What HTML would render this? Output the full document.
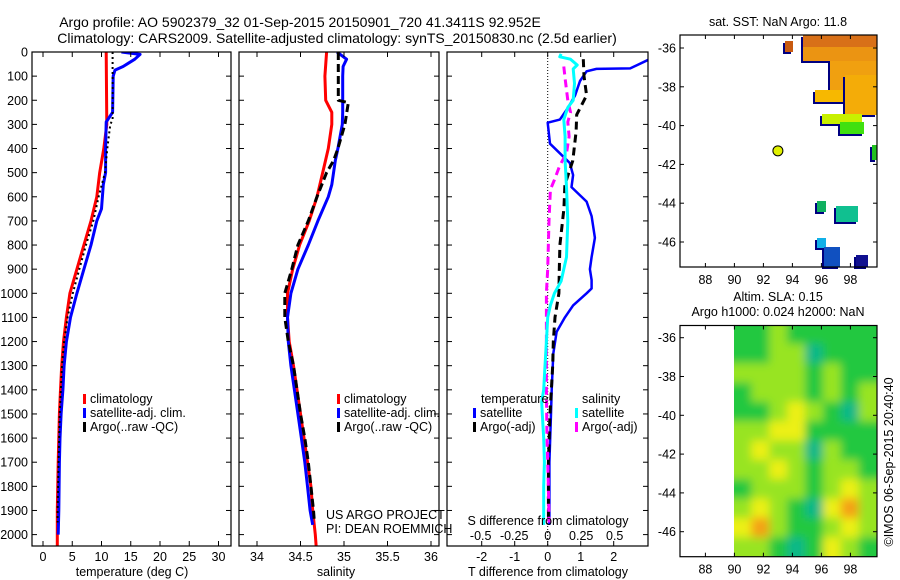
<!DOCTYPE html>
<html><head><meta charset="utf-8"><style>
html,body{margin:0;padding:0;background:#fff;}
svg{display:block;font-family:"Liberation Sans",sans-serif;}
</style></head><body>
<svg id="c" width="900" height="580" viewBox="0 0 900 580">
<defs>
<filter id="blur" filterUnits="userSpaceOnUse" x="700" y="300" width="200" height="280"><feGaussianBlur stdDeviation="4.5"/></filter>
<clipPath id="slaclip"><rect x="734" y="325.5" width="143" height="231"/></clipPath>
</defs>
<g font-size="14" text-anchor="middle" fill="#000">
<text x="300" y="27">Argo profile: AO 5902379_32 01-Sep-2015 20150901_720 41.3411S 92.952E</text>
<text x="337" y="43">Climatology: CARS2009. Satellite-adjusted climatology: synTS_20150830.nc (2.5d earlier)</text>
</g>
<g id="g1"></g>
<g id="g2"></g>
<g id="g3"></g>
<g id="m1"></g>
<g id="m2"></g>
</svg>
<script>
// ---- data ----
const depthTicks=[0,100,200,300,400,500,600,700,800,900,1000,1100,1200,1300,1400,1500,1600,1700,1800,1900,2000];
const tempTicks=[0,5,10,15,20,25,30];
const salTicks=[34,34.5,35,35.5,36];
const tdTicks=[-2,-1,0,1,2];
const sdTicks=[-0.5,-0.25,0,0.25,0.5];
const sdTickLabels=["-0.5","-0.25","0","0.25","0.5"];
const lonTicks=[88,90,92,94,96,98];
const latTicks=[-36,-38,-40,-42,-44,-46];

const tClimD=[0,300,400,500,600,700,800,900,1000,1100,1200,1300,1400,1500,1700,1900,2050];
const tClimV=[10.8,10.9,10.4,9.7,9.2,8.2,7.0,5.8,4.6,4.0,3.5,3.2,3.0,2.8,2.6,2.45,2.45];
const tSatD=[0,10,30,60,75,100,250,290,400,500,550,650,700,800,900,1000,1100,1200,1300,1400,1500,1600,1700,1800,1900,2000];
const tSatV=[13.4,16.6,15.7,13.7,12.3,12.0,11.9,10.8,10.7,10.7,10.3,10.0,9.2,8.2,7.0,5.8,4.7,4.0,3.6,3.4,3.1,2.9,2.8,2.75,2.7,2.6];
const tArgoD=[0,280,300,400,500,600,700,800,900,1000,1100,1200,1300,1500,1700,1900,1950];
const tArgoV=[11.9,11.9,11.5,11.0,10.6,9.5,8.6,7.35,6.2,5.1,4.2,3.6,3.25,2.85,2.65,2.5,2.5];

const sClimD=[0,100,200,250,300,400,500,600,700,800,900,1000,1100,1200,1300,1400,1500,1600,1700,1800,1900,2000,2050];
const sClimV=[34.80,34.78,34.79,34.86,34.86,34.82,34.755,34.69,34.60,34.49,34.41,34.35,34.35,34.37,34.42,34.46,34.50,34.54,34.58,34.62,34.64,34.67,34.68];
const sSatD=[0,30,60,100,250,300,400,450,550,600,700,800,900,1000,1100,1200,1300,1400,1500,1600,1700,1800,1900,1960];
const sSatV=[34.92,35.03,34.99,34.985,34.985,34.98,34.93,34.90,34.86,34.82,34.70,34.59,34.47,34.39,34.35,34.36,34.39,34.43,34.47,34.51,34.55,34.58,34.61,34.64];
const sArgoD=[0,200,210,300,400,450,500,600,700,800,900,1000,1100,1200,1300,1400,1500,1600,1700,1800,1900,1950];
const sArgoV=[34.935,34.935,35.05,35.01,34.93,34.88,34.80,34.69,34.59,34.47,34.40,34.32,34.32,34.36,34.42,34.46,34.50,34.55,34.59,34.62,34.65,34.66];

const dTSatD=[3,68,70,80,120,180,230,280,293,380,420,460,510,560,620,680,770,850,900,945,980,1000,1050,1100,1160,1250,1400,1500,1700,1960];
const dTSatV=[3.5,2.5,1.48,1.18,0.98,0.83,0.62,0.37,0.0,0.07,0.37,0.67,0.77,0.72,1.18,1.33,1.43,1.33,1.28,1.33,1.33,1.18,0.77,0.52,0.27,0.17,0.12,0.1,0.05,0.05];
const dTArgoD=[30,100,180,260,330,450,550,650,800,900,1000,1100,1200,1300,1500,1700,1950];
const dTArgoV=[1.08,1.1,1.18,0.88,0.86,0.76,0.52,0.49,0.37,0.35,0.34,0.22,0.17,0.15,0.07,0.02,0.02];
const dSSatD=[8,20,30,54,70,130,200,230,280,350,450,560,700,850,950,1000,1050,1100,1200,1300,1400,1450,1500,1600,1700,1800,1960];
const dSSatV=[0.10,0.09,0.17,0.22,0.19,0.20,0.19,0.15,0.12,0.13,0.13,0.14,0.15,0.14,0.10,0.05,0.02,0.0,-0.01,-0.02,-0.03,-0.045,-0.04,-0.03,-0.025,-0.03,-0.03];
const dSArgoD=[60,110,200,250,290,350,420,470,530,570,700,900,1000,1200,1400,1600,1800,1950];
const dSArgoV=[0.12,0.13,0.15,0.17,0.15,0.16,0.14,0.09,0.05,0.02,0.01,0.0,-0.01,-0.01,-0.01,-0.005,0.005,0.01];

// SLA grid (levels 0..4), 8 cols x 12 rows
const slaGrid=[
[1,1,2,1,1,1,1,1],
[1,1,2,2,0,1,1,1],
[2,2,2,2,1,2,1,1],
[1,2,2,2,1,2,1,2],
[1,1,2,3,2,1,0,2],
[2,2,3,3,1,1,1,1],
[2,3,2,2,0,2,1,1],
[2,2,3,2,1,2,2,1],
[1,2,2,2,1,2,3,2],
[2,3,2,1,0,3,4,2],
[3,4,2,1,1,2,3,2],
[2,2,1,0,1,3,2,1]];
const argoLon=93.0, argoLat=-41.3;

// ---- helpers ----
const NS="http://www.w3.org/2000/svg";
function mk(parent,tag,attrs,txt){const e=document.createElementNS(NS,tag);for(const k in attrs)e.setAttribute(k,attrs[k]);if(txt!==undefined)e.textContent=txt;parent.appendChild(e);return e;}
const Y0=52,YS=0.2413;
const yD=d=>Y0+d*YS;
const PB=546;
const xT=v=>43+v*5.85;
const xS=v=>257+(v-34)*87;
const xTD=v=>547.7+v*33;
const xSD=v=>547.7+v*134;
const xLon=v=>679.3+(v-86.2)*14.5;
const yLat1=v=>48+(-36-v)*19.4;
const yLat2=v=>337.7+(-36-v)*19.4;

function frame(g,x0,x1,y0,y1){
  const r=mk(g,'rect',{x:x0,y:y0,width:x1-x0,height:y1-y0,fill:'none',stroke:'#000','stroke-width':1.2});
  
  
}
function depthAxis(g,x0,x1,labels){
  depthTicks.forEach(d=>{
    const y=yD(d);
    mk(g,'line',{x1:x0,x2:x0+5,y1:y,y2:y,stroke:'#000'});
    mk(g,'line',{x1:x1-5,x2:x1,y1:y,y2:y,stroke:'#000'});
    if(labels){const t=mk(g,'text',{x:x0-4,y:y+4.5,'font-size':12.5,'text-anchor':'end'},String(d));
      
      }
  });
}
function xAxis(g,ticks,fx,labs,ly,y0,y1){
  ticks.forEach((v,i)=>{const x=fx(v);
    mk(g,'line',{x1:x,x2:x,y1:y1,y2:y1-5,stroke:'#000'});
    mk(g,'line',{x1:x,x2:x,y1:y0,y2:y0+5,stroke:'#000'});
    if(labs){const t=mk(g,'text',{x:x,y:ly,'font-size':12.5,'text-anchor':'middle'},labs[i]);
      
      }
  });
}
function line(g,D,V,fx,color,w,dash,name){
  const pts=D.map((d,i)=>fx(V[i]).toFixed(1)+','+yD(d).toFixed(1)).join(' ');
  const a={points:pts,fill:'none',stroke:color,'stroke-width':w,'stroke-linejoin':'round'};
  if(dash)a['stroke-dasharray']=dash;
  const p=mk(g,'polyline',a);
  
  
}
function legend(g,x,y,items){
  items.forEach((it,i)=>{
    mk(g,'rect',{x:x,y:y+i*14-9,width:3,height:10,fill:it[1]});
    const t=mk(g,'text',{x:x+7,y:y+i*14,'font-size':12.5},it[0]);
    
    
  });
}

// ---- panel 1 ----
const g1=document.getElementById('g1');
const cl1=mk(g1,'clipPath',{id:'cp1'});mk(cl1,'rect',{x:32,y:52,width:199,height:494});
const s1=mk(g1,'g',{'clip-path':'url(#cp1)'});
line(s1,tClimD,tClimV,xT,'#f00',3,null,'climatology-temp-line');
line(s1,tSatD,tSatV,xT,'#00f',3,null,'satellite-temp-line');
line(s1,tArgoD,tArgoV,xT,'#000',2,'2,3','argo-temp-line');
frame(g1,32,231,52,PB);depthAxis(g1,32,231,true);
xAxis(g1,tempTicks,xT,tempTicks.map(String),561,52,PB);
mk(g1,'text',{x:132,y:576,'font-size':12.5,'text-anchor':'middle'},'temperature (deg C)');
legend(g1,83,403,[['climatology','#f00'],['satellite-adj. clim.','#00f'],['Argo(..raw -QC)','#000']]);

// ---- panel 2 ----
const g2=document.getElementById('g2');
const cl2=mk(g2,'clipPath',{id:'cp2'});mk(cl2,'rect',{x:239,y:52,width:200,height:494});
const s2=mk(g2,'g',{'clip-path':'url(#cp2)'});
line(s2,sClimD,sClimV,xS,'#f00',3,null,'climatology-sal-line');
line(s2,sSatD,sSatV,xS,'#00f',3,null,'satellite-sal-line');
line(s2,sArgoD,sArgoV,xS,'#000',3,'8,4','argo-sal-line');
frame(g2,239,439,52,PB);depthAxis(g2,239,439,false);
xAxis(g2,salTicks,xS,salTicks.map(String),561,52,PB);
mk(g2,'text',{x:336,y:576,'font-size':12.5,'text-anchor':'middle'},'salinity');
legend(g2,337,403,[['climatology','#f00'],['satellite-adj. clim.','#00f'],['Argo(..raw -QC)','#000']]);
mk(g2,'text',{x:326,y:519,'font-size':12.5},'US ARGO PROJECT');
mk(g2,'text',{x:326,y:533,'font-size':12.5},'PI: DEAN ROEMMICH');

// ---- panel 3 ----
const g3=document.getElementById('g3');
const cl3=mk(g3,'clipPath',{id:'cp3'});mk(cl3,'rect',{x:447,y:52,width:201,height:494});
const s3=mk(g3,'g',{'clip-path':'url(#cp3)'});
mk(s3,'line',{x1:xTD(0),x2:xTD(0),y1:52,y2:PB,stroke:'#000','stroke-dasharray':'1,2'});
line(s3,dTSatD,dTSatV,xTD,'#00f',2.5,null,'temp-diff-satellite-line');
line(s3,dTArgoD,dTArgoV,xTD,'#000',3,'8,5','temp-diff-argo-line');
line(s3,dSArgoD,dSArgoV,xSD,'#f0f',3,'8,5','sal-diff-argo-line');
line(s3,dSSatD,dSSatV,xSD,'#0ff',3,null,'sal-diff-satellite-line');
frame(g3,447,648,52,PB);depthAxis(g3,447,648,false);
xAxis(g3,tdTicks,xTD,tdTicks.map(String),561,52,PB);
sdTicks.forEach((v,i)=>{const t=mk(g3,'text',{x:xSD(v),y:540,'font-size':12.5,'text-anchor':'middle'},sdTickLabels[i]);
  
  });
mk(g3,'text',{x:548,y:525,'font-size':12.5,'text-anchor':'middle'},'S difference from climatology');
mk(g3,'text',{x:548,y:576,'font-size':12.5,'text-anchor':'middle'},'T difference from climatology');
mk(g3,'text',{x:481,y:403,'font-size':12.5},'temperature');
mk(g3,'text',{x:582,y:403,'font-size':12.5},'salinity');
legend(g3,473,417,[['satellite','#00f'],['Argo(-adj)','#000']]);
legend(g3,575,417,[['satellite','#0ff'],['Argo(-adj)','#f0f']]);

// ---- maps ----
function mapAxes(g,y0,y1,yl){
  frame(g,680,877,y0,y1);
  lonTicks.forEach(v=>{const x=xLon(v);
    mk(g,'line',{x1:x,x2:x,y1:y1,y2:y1-4,stroke:'#000'});
    mk(g,'line',{x1:x,x2:x,y1:y0,y2:y0+4,stroke:'#000'});
    const t=mk(g,'text',{x:x,y:y1+17,'font-size':12.5,'text-anchor':'middle'},String(v));
    
    });
  latTicks.forEach(v=>{const y=yl(v);
    mk(g,'line',{x1:680,x2:684,y1:y,y2:y,stroke:'#000'});
    mk(g,'line',{x1:873,x2:877,y1:y,y2:y,stroke:'#000'});
    const t=mk(g,'text',{x:676,y:y+4.5,'font-size':12.5,'text-anchor':'end'},String(v));
    
    });
}
const m1=document.getElementById('m1');
const blocks=[[785,41,8,11,'#c85a10'],[803,35,74,12,'#d87018'],[803,47,74,14,'#eb9412'],[830,61,47,30,'#f0a010'],
[815,90,45,12,'#f7b800'],[845,75,32,40,'#f4ac08'],[822,114,40,10,'#c8f000'],[840,122,24,12,'#40e010'],[872,145,5,15,'#20c020'],
[817,201,9,11,'#10b060'],[836,206,22,16,'#10c090'],[817,238,9,10,'#10b0e8'],[824,247,16,20,'#1050c0'],[856,255,12,12,'#101090']];
blocks.forEach(b=>{mk(m1,'rect',{x:b[0]-2,y:b[1]+2,width:b[2],height:b[3],fill:'#000080'});
  const r=mk(m1,'rect',{x:b[0],y:b[1],width:b[2],height:b[3],fill:b[4]});
  
  });
const dot=mk(m1,'circle',{cx:xLon(argoLon),cy:yLat1(argoLat),r:5,fill:'#e0f000',stroke:'#000','stroke-width':1});


mapAxes(m1,35,267,yLat1);
mk(m1,'text',{x:778,y:26,'font-size':12.5,'text-anchor':'middle'},'sat. SST: NaN Argo: 11.8');

const m2=document.getElementById('m2');
const cols=['#10b888','#20c840','#98e420','#ecf018','#f4a018'];
const sg=mk(m2,'g',{'clip-path':'url(#slaclip)'});
mk(sg,'rect',{x:734,y:325,width:143,height:232,fill:'#30c840'});
const bg=mk(sg,'g',{filter:'url(#blur)'});
const cw=143/8,ch=232/12;
slaGrid.forEach((row,r)=>row.forEach((v,c)=>{
  const x=734+c*cw-0.5-(c===0?10:0), y=325+r*ch-0.5-(r===0?10:0);
  const w=cw+1+(c===0?10:0)+(c===7?10:0), h=ch+1+(r===0?10:0)+(r===11?10:0);
  const e=mk(bg,'rect',{x:x,y:y,width:w,height:h,fill:cols[v]});
  
  
}));
mapAxes(m2,325.5,556.7,yLat2);
mk(m2,'text',{x:778,y:301,'font-size':12.5,'text-anchor':'middle'},'Altim. SLA: 0.15');
mk(m2,'text',{x:778,y:316,'font-size':12.5,'text-anchor':'middle'},'Argo h1000: 0.024 h2000: NaN');
mk(m2,'text',{x:0,y:0,'font-size':12.5,'text-anchor':'middle',transform:'translate(893,462) rotate(-90)'},'©IMOS 06-Sep-2015 20:40:40');
</script>
</body></html>
